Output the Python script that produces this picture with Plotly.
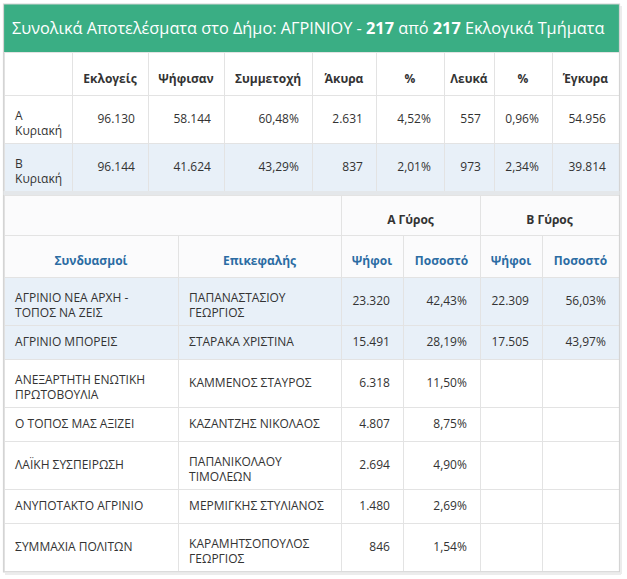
import plotly.graph_objects as go

W, H = 627, 579

title_text = "Συνολικά Αποτελέσματα στο Δήμο: ΑΓΡΙΝΙΟΥ - <b>217</b> από <b>217</b> Εκλογικά Τμήματα"

# ---- summary table data ----
sum_headers = ["", "Εκλογείς", "Ψήφισαν", "Συμμετοχή", "Άκυρα", "%", "Λευκά", "%", "Έγκυρα"]
sum_rounds = ["Α<br>Κυριακή", "Β<br>Κυριακή"]
sum_voters = ["96.130", "96.144"]
sum_voted = ["58.144", "41.624"]
sum_turnout = ["60,48%", "43,29%"]
sum_invalid = ["2.631", "837"]
sum_invalid_pct = ["4,52%", "2,01%"]
sum_blank = ["557", "973"]
sum_blank_pct = ["0,96%", "2,34%"]
sum_valid = ["54.956", "39.814"]

# ---- results table data ----
group_headers = ["", "Α Γύρος", "Β Γύρος"]
res_headers = ["Συνδυασμοί", "Επικεφαλής", "Ψήφοι", "Ποσοστό", "Ψήφοι", "Ποσοστό"]
parties = ["ΑΓΡΙΝΙΟ ΝΕΑ ΑΡΧΗ -<br>ΤΟΠΟΣ ΝΑ ΖΕΙΣ", "ΑΓΡΙΝΙΟ ΜΠΟΡΕΙΣ", "ΑΝΕΞΑΡΤΗΤΗ ΕΝΩΤΙΚΗ<br>ΠΡΩΤΟΒΟΥΛΙΑ",
           "Ο ΤΟΠΟΣ ΜΑΣ ΑΞΙΖΕΙ", "ΛΑΪΚΗ ΣΥΣΠΕΙΡΩΣΗ", "ΑΝΥΠΟΤΑΚΤΟ ΑΓΡΙΝΙΟ", "ΣΥΜΜΑΧΙΑ ΠΟΛΙΤΩΝ"]
leaders = ["ΠΑΠΑΝΑΣΤΑΣΙΟΥ<br>ΓΕΩΡΓΙΟΣ", "ΣΤΑΡΑΚΑ ΧΡΙΣΤΙΝΑ", "ΚΑΜΜΕΝΟΣ ΣΤΑΥΡΟΣ", "ΚΑΖΑΝΤΖΗΣ ΝΙΚΟΛΑΟΣ",
           "ΠΑΠΑΝΙΚΟΛΑΟΥ<br>ΤΙΜΟΛΕΩΝ", "ΜΕΡΜΙΓΚΗΣ ΣΤΥΛΙΑΝΟΣ", "ΚΑΡΑΜΗΤΣΟΠΟΥΛΟΣ<br>ΓΕΩΡΓΙΟΣ"]
a_votes = ["23.320", "15.491", "6.318", "4.807", "2.694", "1.480", "846"]
a_pct = ["42,43%", "28,19%", "11,50%", "8,75%", "4,90%", "2,69%", "1,54%"]
b_votes = ["22.309", "17.505", "", "", "", "", ""]
b_pct = ["56,03%", "43,97%", "", "", "", "", ""]

GREEN = "#3aae84"
LINE = "#e3e3e3"
HIL = "#e8f0f8"
TXT = "#333333"
BLUE = "#2b6ca3"
HEADFILL = "#fbfbfc"
CLEAR = "rgba(0,0,0,0)"
FONT = "Open Sans, Noto Sans, sans-serif"
NB = "\u00a0"

X0, X1 = 4, 619
CAP = 12.7      # centre of first text line below a table cell top (plotly pads 8px)
LINE_H = 15.6   # plotly line spacing for 12px text


def xd(a, b):
    return [a / W, b / W]


def yd(top, bottom):
    return [1 - bottom / H, 1 - top / H]


def pad(s, align):
    if not s:
        return s
    if align == "left":
        return NB + s.replace("<br>", "<br>" + NB)
    if align == "right":
        return s + NB + "\u2009"
    return s


def nlines(s):
    return s.count("<br>") + 1 if s else 0


def row_height(values):
    return 48 if max(nlines(v) for v in values) > 1 else 34


def add_row(fig, top, h, widths, values, aligns, fill, color, bold=False):
    n = len(values)
    dx = xd(X0, X1)
    # cell fills and rules
    fig.add_trace(go.Table(
        domain=dict(x=dx, y=yd(top, top + h + 1)), columnwidth=widths,
        header=dict(values=[""] * n, fill_color=fill, line_color=LINE, height=h),
        cells=dict(values=[[] for _ in range(n)]),
    ))
    # text, vertically centred according to its number of lines
    for k in (1, 2):
        vals = [pad(v, a) if nlines(v) == k else "" for v, a in zip(values, aligns)]
        if not any(vals):
            continue
        if bold:
            vals = [f"<b>{v}</b>" if v else "" for v in vals]
        shift = h / 2 - (CAP + (k - 1) * LINE_H / 2) + (1 if bold else 0)
        fig.add_trace(go.Table(
            domain=dict(x=dx, y=yd(top + shift, min(H, top + h + 40))), columnwidth=widths,
            header=dict(values=vals, fill_color=CLEAR, line_color=CLEAR, height=h - shift,
                        align=aligns, font=dict(family=FONT, size=12, color=color)),
            cells=dict(values=[[] for _ in range(n)]),
        ))
    return top + h


fig = go.Figure()

# ---------- title bar ----------
fig.add_trace(go.Table(
    domain=dict(x=xd(X0, X1), y=yd(4, 56)),
    columnwidth=[1],
    header=dict(values=[""], fill_color=GREEN, line_color=GREEN, height=48),
    cells=dict(values=[[]]),
))

# ---------- summary table ----------
sum_widths = [68, 76, 76, 88, 64, 68, 50, 58, 67]
sum_cols = [sum_rounds, sum_voters, sum_voted, sum_turnout, sum_invalid, sum_invalid_pct,
            sum_blank, sum_blank_pct, sum_valid]
sum_align = ["left"] + ["right"] * 8
y = add_row(fig, 52, 43, sum_widths, sum_headers, ["center"] * 9, "white", TXT, bold=True)
for i in range(len(sum_rounds)):
    vals = [c[i] for c in sum_cols]
    y = add_row(fig, y, row_height(vals), sum_widths, vals, sum_align, HIL if i % 2 else "white", TXT)

# ---------- results table ----------
g_widths = [337, 139, 139]
r_widths = [174, 163, 62, 77, 62, 77]
res_cols = [parties, leaders, a_votes, a_pct, b_votes, b_pct]
res_align = ["left", "left", "right", "right", "right", "right"]
y = add_row(fig, y + 4, 40, g_widths, group_headers, ["center"] * 3, HEADFILL, TXT, bold=True)
y = add_row(fig, y, 42, r_widths, res_headers, ["center"] * 6, HEADFILL, BLUE, bold=True)
for i in range(len(parties)):
    vals = [c[i] for c in res_cols]
    y = add_row(fig, y, row_height(vals), r_widths, vals, res_align, HIL if i < 2 else "white", TXT)

fig.update_layout(
    width=W, height=H, margin=dict(l=0, r=0, t=0, b=0),
    paper_bgcolor="white", plot_bgcolor="white",
    title=dict(text=title_text, x=12 / W, xanchor="left", y=1 - 28 / H, yanchor="middle",
               xref="paper", yref="container",
               font=dict(family=FONT, size=16.3, color="white")),
    shapes=[
        dict(type="rect", xref="paper", yref="paper", x0=3.5 / W, x1=619.5 / W, y0=1 - 572 / H, y1=1 - 4 / H,
             line=dict(color="#d4d4d4", width=1.2), layer="above"),
        dict(type="line", xref="paper", yref="paper", x0=621 / W, x1=621 / W, y0=1 - 574 / H, y1=1 - 6 / H,
             line=dict(color="#ececec", width=2), layer="above"),
        dict(type="line", xref="paper", yref="paper", x0=5 / W, x1=621 / W, y0=1 - 574 / H, y1=1 - 574 / H,
             line=dict(color="#ececec", width=2), layer="above"),
        dict(type="line", xref="paper", yref="paper", x0=3.5 / W, x1=619.5 / W, y0=1 - 193 / H, y1=1 - 193 / H,
             line=dict(color="#e4e7ea", width=4), layer="above"),
    ],
)

fig.write_html("out.html", config={"displayModeBar": False},
               post_script="document.body.style.margin='0px';")
